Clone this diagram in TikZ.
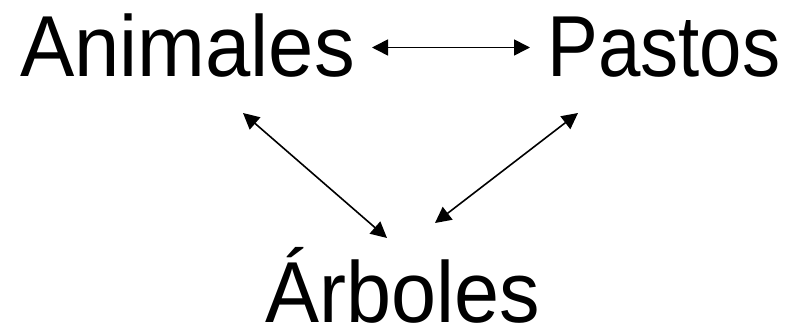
\documentclass[tikz,border=0pt]{standalone}
\usepackage{fontspec}
\setmainfont{Liberation Sans}
\usetikzlibrary{arrows.meta}
\begin{document}
\begin{tikzpicture}[x=1pt,y=-1pt,
  word/.style={inner sep=0pt,anchor=base west,font=\fontsize{86.6}{90}\selectfont},
  link/.style={line width=1.6pt,{Triangle[length=16pt,width=16pt]}-{Triangle[length=16pt,width=16pt]}}]
\useasboundingbox[fill=white] (0,0) rectangle (797,326);
\node[word] (anim) at (20,77) {\scalebox{0.94}[1]{Animales}};
\node[word] (past) at (547,77) {\scalebox{0.88}[1]{Pastos}};
\node[word] (arb) at (265,322) {\scalebox{0.935}[1]{Árboles}};
\coordinate (ah) at (372,47.5);
\coordinate (ph) at (530,47.5);
\coordinate (ad) at (243,113);
\coordinate (ab) at (387,238);
\coordinate (pd) at (578,113);
\coordinate (pb) at (435,223);
\draw[link] (ah) -- (ph);
\draw[link] (ad) -- (ab);
\draw[link] (pd) -- (pb);
\end{tikzpicture}
\end{document}
